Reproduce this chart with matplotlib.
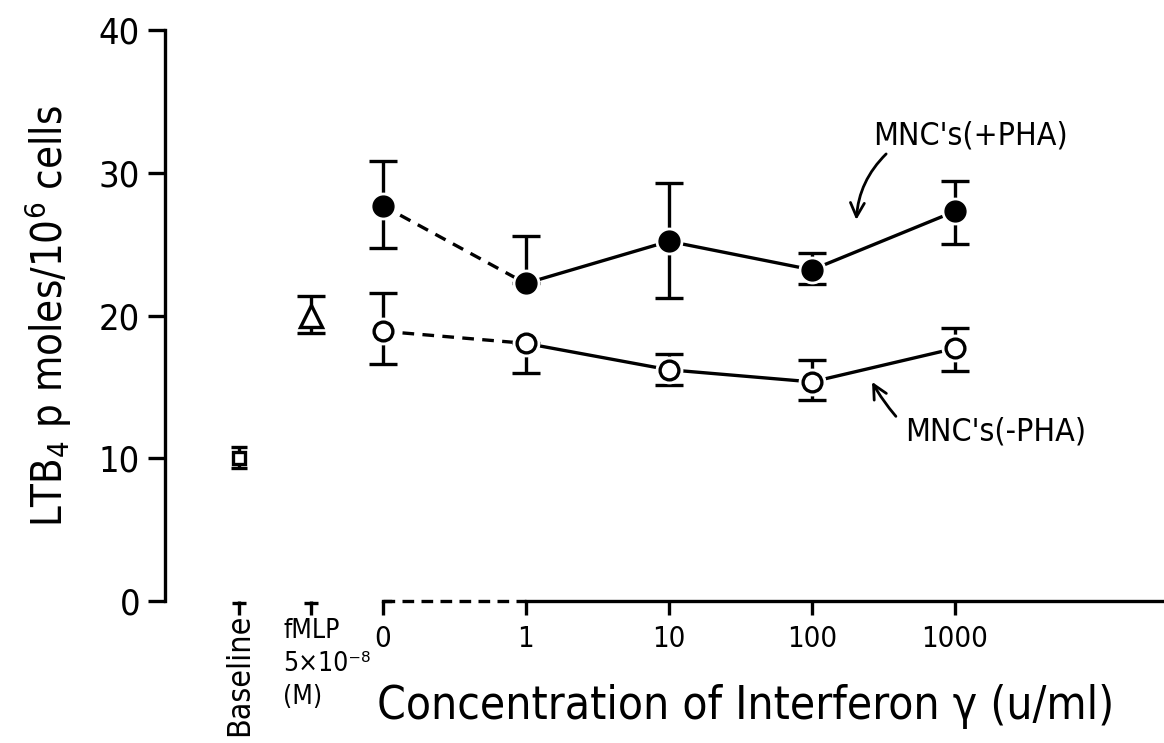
import matplotlib
matplotlib.use("Agg")
import matplotlib.pyplot as plt
import numpy as np

plt.rcParams['font.family'] = ['DejaVu Sans']
plt.rcParams['font.stretch'] = 'condensed'

# interferon concentrations (u/ml) shown as evenly spaced categories
conc_labels = ['0', '1', '10', '100', '1000']

# MNC's stimulated with PHA
pha_mean = [27.7, 22.25, 25.2, 23.2, 27.3]
pha_upper = [30.8, 25.6, 29.25, 24.4, 29.4]
pha_lower = [24.75, 22.25, 21.25, 22.2, 25.0]

# MNC's without PHA
nopha_mean = [18.9, 18.05, 16.2, 15.35, 17.7]
nopha_upper = [21.6, 18.05, 17.3, 16.9, 19.1]
nopha_lower = [16.6, 16.0, 15.1, 14.1, 16.1]

# controls: mean, lower, upper
baseline = [10.0, 9.3, 10.8]
fmlp = [20.0, 18.8, 21.35]

lw = 2.4
fig = plt.figure(figsize=(11.64, 7.43), dpi=100)
ax = fig.add_axes([0.1418, 0.1911, 0.8582, 0.7685])

xc = np.arange(len(conc_labels))
x_base, x_fmlp = -1.0, -0.5


def draw_series(mean, lower, upper, filled):
    mean = np.array(mean)
    err = [mean - np.array(lower), np.array(upper) - mean]
    ax.errorbar(xc, mean, yerr=err, fmt='none', ecolor='k', elinewidth=lw,
                capsize=10, capthick=lw, zorder=2)
    ax.plot(xc[:2], mean[:2], color='k', lw=lw, ls=(0, (3.5, 2.5)), zorder=1)
    ax.plot(xc[1:], mean[1:], color='k', lw=lw, zorder=1)
    # white halo leaves a small gap between line and marker
    ax.plot(xc, mean, 'o', ms=19, mfc='white', mec='white', zorder=3)
    if filled:
        ax.plot(xc, mean, 'o', ms=15, mfc='k', mec='k', zorder=4)
    else:
        ax.plot(xc, mean, 'o', ms=13.5, mfc='white', mec='k', mew=lw, zorder=4)


draw_series(pha_mean, pha_lower, pha_upper, True)
draw_series(nopha_mean, nopha_lower, nopha_upper, False)

for x, (m, lo, hi), mk, size, cap in [(x_base, baseline, 's', 8, 6),
                                     (x_fmlp, fmlp, '^', 16, 10)]:
    ax.errorbar([x], [m], yerr=[[m - lo], [hi - m]], fmt='none', ecolor='k',
                elinewidth=lw, capsize=cap, capthick=lw, zorder=2)
    ax.plot([x], [m], mk, ms=size, mfc='white', mec='k', mew=lw, zorder=4)

ax.set_xlim(-1.52, 5.46)
ax.set_ylim(0, 40)

for s in ['top', 'right', 'bottom']:
    ax.spines[s].set_visible(False)
ax.spines['left'].set_linewidth(lw)

# x axis: broken (dashed) between 0 and 1
ax.plot([0, 1], [0, 0], color='k', lw=lw, ls=(0, (3.5, 2.2)), clip_on=False, zorder=5)
ax.plot([1, 5.46], [0, 0], color='k', lw=lw, clip_on=False, zorder=5)
ax.plot([0, 0.05], [0, 0], color='k', lw=lw, clip_on=False, zorder=5)
ax.plot([x_base, x_fmlp], [-0.15, -0.15], '_', color='k', ms=10, mew=lw, clip_on=False)

ax.set_yticks([0, 10, 20, 30, 40])
ax.tick_params(axis='y', direction='out', length=12, width=lw, labelsize=26, pad=6)
ax.set_xticks([x_base, x_fmlp] + list(xc))
ax.set_xticklabels(['', ''] + conc_labels)
ax.tick_params(axis='x', direction='out', length=10, width=lw, labelsize=21, pad=7)

ax.text(x_base, -0.9, 'Baseline', rotation=90, ha='center', va='top', fontsize=23)
ax.text(-0.695, -1.2, 'fMLP\n5×10⁻⁸\n(M)', ha='left', va='top', fontsize=19,
        linespacing=1.35)

ax.set_ylabel('LTB$_4$ p moles/10$^6$ cells', fontsize=30, labelpad=18)
ax.text(-0.04, -5.8, 'Concentration of Interferon γ (u/ml)', ha='left', va='top',
        fontsize=33)

ax.annotate("MNC's(+PHA)", xy=(3.31, 26.7), xytext=(3.43, 32.6), fontsize=23,
            va='center', ha='left',
            arrowprops=dict(arrowstyle='->', lw=2, color='k', mutation_scale=25,
                            shrinkA=0, shrinkB=0, relpos=(0.08, 0),
                            connectionstyle='arc3,rad=0.2'))
ax.annotate("MNC's(-PHA)", xy=(3.42, 15.35), xytext=(3.65, 11.85), fontsize=23,
            va='center', ha='left',
            arrowprops=dict(arrowstyle='->', lw=2, color='k', mutation_scale=25,
                            shrinkA=0, shrinkB=0, relpos=(-0.05, 1.0),
                            connectionstyle='arc3,rad=-0.05'))

fig.savefig('out.png', dpi=100)
